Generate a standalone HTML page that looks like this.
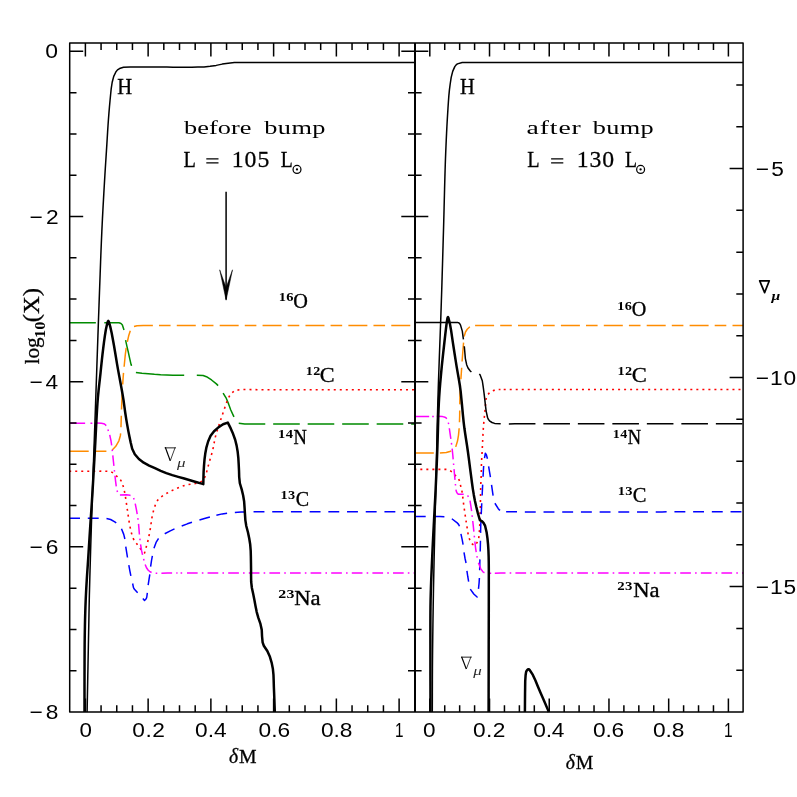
<!DOCTYPE html>
<html><head><meta charset="utf-8"><title>Abundance profiles before and after the bump</title>
<style>
html,body{margin:0;padding:0;background:#fff;}
body{width:797px;height:797px;overflow:hidden;font-family:"Liberation Sans",sans-serif;}
svg{display:block;will-change:transform;opacity:0.999;}
text{fill:#000;}
</style></head>
<body>
<svg width="797" height="797" viewBox="0 0 797 797">
<rect width="797" height="797" fill="#fff"/>
<!-- left panel curves -->
<path d="M69.7 322.7 L75.79 322.7 L81.92 322.7 L87.99 322.7 L94.24 322.7 L95.85 322.7 M104.29 322.67 L110.49 322.66 L116.54 322.69 L118.91 322.74 L120.39 323.21 L121.41 323.87 L122.38 325.08 L124 330.1 M125.6 340.2 L126.88 346.1 L128.31 352.2 L129.66 358.39 L131.03 364.31 L131.5 365.9 M135.9 372.5 L141.93 373.31 L148.2 373.64 L154.42 374.26 L160.68 374.74 L166.9 374.98 L172.95 375.13 L179.33 375.24 L184.2 375.3 M196.8 375.3 L203.13 375.53 L206.47 376.68 L211.55 379.96 L216.39 383.86 L218.1 385.6 M223.1 393.1 L226.34 398.47 L228.67 404.15 L230.78 409.95 L233.38 415.6 L234 416.9 M238.74 423.25 L244.73 423.96 L250.86 423.96 L257.15 423.9 L263.28 423.91 L265.27 423.91 M273.17 423.92 L279.42 423.93 L285.58 423.93 L291.79 423.93 L297.95 423.93 L299.77 423.93 M307.67 423.93 L314.04 423.93 L320.12 423.93 L326.32 423.93 L332.63 423.93 L334.27 423.93 M342.17 423.92 L348.26 423.92 L354.31 423.92 L360.36 423.92 L366.4 423.91 L368.77 423.91 M376.67 423.91 L382.95 423.91 L389.25 423.9 L395.45 423.9 L401.52 423.9 L403.27 423.9 M411.17 423.9 L414.8 423.9" fill="none" stroke="#008b00" stroke-width="1.5" stroke-linecap="butt" stroke-linejoin="round" />
<path d="M69.7 451.3 L75.89 451.3 L82.1 451.3 L88.48 451.3 L88.7 451.3 M94.8 451.31 L100.81 451.33 L106.4 451.31 M112.26 449.9 L115.77 446.26 L118.9 440.79 L120.35 435.72 L120.65 433.42 M120.97 427.33 L121.16 421 L121.32 415.73 M121.52 409.54 L121.75 403.45 L122.03 397.2 L122.33 391.07 L122.36 390.56 M122.69 384.46 L123.08 378.34 L123.51 372.89 M124.12 366.72 L124.71 360.54 L125.33 354.4 L126.14 348.38 L126.23 347.84 M127.33 341.85 L128.68 335.8 L130.3 330.65 M134 326.6 L137.01 325.82 L143.3 325.47 L149.34 325.5 L152.87 325.5 M158.97 325.47 L165.3 325.47 L170.57 325.47 M176.77 325.48 L182.99 325.49 L189.11 325.49 L195.18 325.5 L195.77 325.5 M201.87 325.5 L208.13 325.5 L213.47 325.5 M219.67 325.5 L225.96 325.5 L232.17 325.5 L238.26 325.5 L238.67 325.5 M244.77 325.5 L251.04 325.5 L256.37 325.5 M262.57 325.5 L268.6 325.5 L274.82 325.5 L281.12 325.5 L281.57 325.5 M287.67 325.5 L293.99 325.5 L299.27 325.5 M305.47 325.5 L311.55 325.5 L317.77 325.5 L324.01 325.5 L324.47 325.5 M330.57 325.5 L337 325.5 L342.17 325.5 M348.37 325.5 L354.45 325.5 L360.68 325.5 L366.88 325.5 L367.37 325.5 M373.47 325.5 L379.6 325.5 L385.07 325.5 M391.27 325.5 L397.56 325.5 L403.81 325.5 L409.96 325.5 L410.27 325.5" fill="none" stroke="#ff8c00" stroke-width="1.5" stroke-linecap="butt" stroke-linejoin="round" />
<path d="M69.7 471.3 L71.2 471.3 M75.22 471.3 L77.22 471.3 M81.24 471.3 L83.24 471.3 M87.26 471.3 L89.26 471.3 M93.28 471.28 L95.28 471.25 M99.3 471.19 L101.3 471.17 M105.32 471.19 L107.32 471.27 M111.27 471.85 L112.98 472.88 M116 475.53 L117.5 476.86 M120.35 479.68 L121.42 481.37 M122.85 485.12 L123.43 487.03 M124.36 490.94 L124.74 492.9 M125.46 496.86 L125.77 498.83 M126.35 502.81 L126.65 504.79 M127.21 508.77 L127.49 510.75 M128.06 514.73 L128.36 516.71 M128.96 520.68 L129.27 522.66 M129.99 526.61 L130.42 528.57 M131.31 532.49 L131.81 534.42 M133.1 538.23 L133.99 540.02 M136.32 543.29 L137.55 544.86 M139.92 548.11 L141.14 549.7 M144.04 552.46 L144.6 552.9 L144.94 551.66 M145.99 547.78 L146.53 545.85 M147.65 541.99 L148.12 540.05 M148.95 536.11 L149.34 534.15 M150.07 530.2 L150.41 528.23 M150.98 524.25 L151.24 522.27 M151.82 518.29 L152.2 516.32 M153.09 512.41 L153.59 510.47 M154.73 506.61 L155.4 504.73 M157.07 501.08 L158.24 499.46 M161.27 496.83 L162.9 495.68 M166.32 493.56 L168.06 492.58 M171.63 490.73 L173.43 489.86 M177.1 488.22 L178.95 487.47 M182.73 486.07 L184.62 485.45 M188.53 484.5 L190.5 484.18 M194.48 483.59 L196.45 483.25 M200.31 482.17 L202.02 481.15 M204.46 477.99 L205.34 476.2 M206.58 472.38 L207.04 470.43 M208.06 466.54 L208.61 464.62 M209.7 460.75 L210.25 458.83 M211.39 454.97 L211.95 453.05 M212.94 449.16 L213.34 447.2 M214.07 443.24 L214.43 441.28 M215.26 437.34 L215.76 435.41 M216.88 431.55 L217.47 429.64 M218.69 425.81 L219.33 423.91 M220.6 420.1 L221.23 418.2 M222.51 414.39 L223.15 412.49 M224.45 408.69 L225.08 406.79 M226.42 403 L227.17 401.15 M228.77 397.46 L229.7 395.69 M232.23 392.58 L233.82 391.38 M237.46 390.09 L239.44 389.83 M243.45 389.52 L245.45 389.49 M249.47 389.54 L251.47 389.59 M255.49 389.67 L257.49 389.69 M261.51 389.7 L263.51 389.7 M267.53 389.7 L269.53 389.7 M273.55 389.7 L275.55 389.7 M279.57 389.7 L281.57 389.7 M285.59 389.7 L287.59 389.7 M291.61 389.7 L293.61 389.7 M297.63 389.7 L299.63 389.7 M303.65 389.7 L305.65 389.7 M309.67 389.7 L311.67 389.7 M315.69 389.7 L317.69 389.7 M321.71 389.7 L323.71 389.7 M327.73 389.7 L329.73 389.7 M333.75 389.7 L335.75 389.7 M339.77 389.7 L341.77 389.7 M345.79 389.7 L347.79 389.7 M351.81 389.7 L353.81 389.7 M357.83 389.7 L359.83 389.7 M363.85 389.7 L365.85 389.7 M369.87 389.7 L371.87 389.7 M375.89 389.7 L377.89 389.7 M381.91 389.7 L383.91 389.7 M387.93 389.7 L389.93 389.7 M393.95 389.7 L395.95 389.7 M399.97 389.7 L401.97 389.7 M405.99 389.7 L407.99 389.7 M412.01 389.7 L414.01 389.7" fill="none" stroke="#ff0000" stroke-width="1.6" stroke-linecap="butt" stroke-linejoin="round" />
<path d="M69.7 518.2 L75.96 518.2 L80 518.2 M87.8 518.2 L93.99 518.18 L98.7 518.14 M106.49 518.52 L110.62 519.49 L114.79 521.81 L116.24 522.97 M121.48 528.68 L123.74 534.36 L124.89 538.99 M125.76 546.74 L126.71 552.72 L127.5 557.5 M128.82 565.19 L129.91 571.14 L130.87 575.9 M132.64 583.49 L133.48 587.55 L134.44 589.31 L137.63 592.81 M142.86 598.6 L144.5 600.5 L146.18 598.69 L146.76 597.25 L147.35 592.94 M148.14 585.18 L149.07 579.08 L149.83 574.41 M150.61 566.65 L151.5 560.58 L152.36 555.89 M153.97 548.26 L156.07 542.41 L158.13 539.02 L158.59 538.49 M164.72 533.72 L170.31 530.85 L174.5 528.92 M181.71 525.94 L187.38 523.83 L191.98 522.3 M199.45 520.04 L205.35 518.3 L209.9 516.94 M216.38 515.15 L222.24 513.89 L227.09 513.17 M234.85 512.45 L241.04 512.1 L245.74 511.97 M253.54 511.87 L260 511.8 L264.44 511.75 M272.24 511.7 L278.56 511.67 L283.14 511.66 M290.94 511.65 L296.97 511.64 L301.84 511.64 M309.64 511.64 L315.77 511.65 L320.54 511.65 M328.34 511.66 L334.62 511.67 L339.24 511.68 M347.04 511.7 L353.22 511.71 L357.94 511.72 M365.74 511.74 L371.95 511.75 L376.64 511.76 M384.44 511.77 L390.76 511.78 L395.34 511.79 M403.14 511.79 L409.53 511.8 L414.04 511.8" fill="none" stroke="#0000ff" stroke-width="1.5" stroke-linecap="butt" stroke-linejoin="round" />
<path d="M69.7 423.2 L75.97 423.2 L82.3 423.2 L85.14 423.2 M90.47 423.2 L92.32 423.16 M96.31 423.03 L101.4 423.2 L103.67 423.7 L104.76 424.24 L105.63 425.04 L106.12 425.75 M107.86 429.51 L108.45 431 M109.72 434.95 L111.02 441 L111.67 445.46 M112.2 449.58 L112.38 451.17 M112.8 455.3 L113.43 461.46 L113.91 465.94 M114.34 470.07 L114.52 471.66 M114.97 475.78 L115.7 482.06 L116.26 486.4 M117.05 490.47 L117.5 492.01 M119.92 494.99 L126.29 494.86 L130.1 495.36 L130.56 495.48 M133.61 498.03 L134.11 499.55 M135.21 503.55 L136.42 509.57 L137.2 514.06 M137.82 518.16 L138.04 519.75 M138.54 523.87 L139.04 529.87 L139.41 534.53 M139.86 538.66 L140.04 540.25 M140.56 544.36 L141.58 550.63 L142.54 554.87 M143.62 558.88 L144.06 560.42 M145.16 564.42 L146.5 567.8 L148.24 570.22 L150.06 571.74 L151.59 572.46 M155.67 573.16 L157.27 573.21 M161.42 573.14 L167.55 573.01 L172.11 573.01 M176.26 573.01 L177.58 573.02 M180.58 573.02 L182.18 573.02 M186.98 573.03 L193.27 573.03 L197.68 573.04 M201.83 573.04 L203.43 573.04 M207.58 573.04 L213.88 573.04 L218.28 573.04 M222.43 573.04 L224.03 573.04 M228.18 573.05 L234.36 573.05 L238.88 573.04 M243.03 573.04 L244.63 573.04 M248.78 573.04 L255.13 573.04 L259.48 573.04 M263.63 573.04 L265.23 573.04 M269.38 573.04 L275.82 573.04 L280.08 573.04 M284.23 573.04 L285.83 573.03 M289.98 573.03 L296.36 573.03 L300.68 573.03 M304.83 573.03 L306.43 573.03 M310.58 573.03 L316.82 573.02 L321.28 573.02 M325.43 573.02 L327.03 573.02 M331.18 573.02 L337.37 573.02 L341.88 573.02 M346.03 573.01 L347.63 573.01 M351.78 573.01 L358.16 573.01 L362.48 573.01 M366.63 573.01 L368.23 573.01 M372.38 573.01 L378.41 573.01 L383.08 573 M387.23 573 L388.83 573 M392.98 573 L399.08 573 L403.68 573 M407.83 573 L409.43 573 M413.58 573 L414.8 573" fill="none" stroke="#ff00ff" stroke-width="1.5" stroke-linecap="butt" stroke-linejoin="round" />
<path d="M87.1 712 L87.21 706 L87.33 699.99 L87.44 693.97 L87.56 687.96 L87.67 681.96 L87.79 675.57 L87.92 669.19 L88.03 663.13 L88.15 657.07 L88.27 651.02 L88.38 644.98 L88.5 638.97 L88.63 632.58 L88.76 626.19 L88.87 620.03 L88.98 614.03 L89.1 607.95 L89.23 601.58 L89.36 595.58 L89.52 589.36 L89.68 583.04 L89.84 577.02 L90.02 570.69 L90.2 564.5 L90.39 558.11 L90.57 551.98 L90.76 545.73 L90.95 539.4 L91.15 533.01 L91.35 526.59 L91.55 520.18 L91.76 513.79 L91.96 507.47 L92.16 501.23 L92.37 494.92 L92.58 488.64 L92.79 482.32 L93.01 475.97 L93.23 469.59 L93.44 463.59 L93.65 457.57 L93.87 451.54 L94.08 445.49 L94.3 439.45 L94.51 433.39 L94.73 427.34 L94.95 421.29 L95.16 415.25 L95.38 409.22 L95.59 403.2 L95.8 397.19 L96.01 391.14 L96.22 385.03 L96.43 378.9 L96.65 372.73 L96.86 366.56 L97.07 360.38 L97.28 354.21 L97.5 348.07 L97.71 341.96 L97.92 335.89 L98.13 329.89 L98.35 323.55 L98.57 317.31 L98.79 311.17 L99.01 305.16 L99.23 299.13 L99.45 293.09 L99.68 286.7 L99.91 280.41 L100.14 274.21 L100.36 268.11 L100.58 262.09 L100.82 255.77 L101.06 249.55 L101.31 243.43 L101.57 237.4 L101.85 231.1 L102.15 224.82 L102.46 218.41 L102.79 212.1 L103.12 205.91 L103.46 199.87 L103.81 193.61 L104.16 187.56 L104.52 181.41 L104.89 175.19 L105.27 169.04 L105.67 162.79 L106.07 156.65 L106.47 150.4 L106.85 144.34 L107.22 138.19 L107.59 132.08 L108 125.71 L108.43 119.57 L108.93 113.17 L109.44 107.01 L110.01 100.77 L110.59 94.78 L111.21 88.6 L112.19 82.25 L113.72 76.43 L115.96 71.71 L117.5 69.86 L119.53 68.51 L123.5 67.26 L130 67.1 L136.05 67.04 L142.39 67.05 L148.47 67.07 L154.74 67.09 L160.75 67.1 L166.86 67.11 L173.06 67.13 L179.44 67.14 L185.66 67.15 L191.79 67.14 L197.89 67.09 L204.01 66.92 L210.12 66.34 L216.16 65.39 L222.25 64.11 L228.18 63.15 L234.41 62.62 L240.68 62.52 L246.87 62.49 L252.99 62.46 L259.01 62.46 L265.24 62.46 L271.51 62.47 L277.66 62.48 L284.02 62.49 L290.07 62.49 L296.21 62.5 L302.32 62.5 L308.48 62.5 L314.57 62.5 L320.89 62.5 L327.02 62.5 L333.31 62.5 L339.33 62.5 L345.45 62.5 L351.66 62.5 L357.93 62.5 L364.25 62.5 L370.6 62.5 L376.97 62.5 L383.32 62.5 L389.66 62.5 L395.95 62.5 L402.18 62.5 L408.34 62.5 L414.4 62.5 L414.8 62.5" fill="none" stroke="#000" stroke-width="1.5" stroke-linecap="butt" stroke-linejoin="round" />
<path d="M84.5 712 L84.5 705.64 L84.5 699.3 L84.5 693.27 L84.5 687.25 L84.51 681.25 L84.52 675.16 L84.54 669.05 L84.56 662.98 L84.58 656.88 L84.61 650.78 L84.65 644.74 L84.72 638.35 L84.81 632.21 L84.92 626.18 L85.05 619.91 L85.21 613.89 L85.41 607.54 L85.65 601.21 L85.92 595.21 L86.23 589.18 L86.58 583.06 L86.97 576.69 L87.39 570.4 L87.81 564.29 L88.22 558.16 L88.61 551.99 L88.99 545.95 L89.38 539.79 L89.77 533.63 L90.16 527.62 L90.57 521.43 L90.99 515.28 L91.42 508.95 L91.83 502.66 L92.22 496.43 L92.58 490.43 L92.95 484.14 L93.3 478.06 L93.66 471.86 L94.01 465.61 L94.37 459.38 L94.72 453.22 L95.06 447.17 L95.39 440.98 L95.7 434.67 L96.02 428.33 L96.34 422.05 L96.67 415.93 L97.03 409.66 L97.44 403.42 L97.93 397.24 L98.54 390.89 L99.22 384.66 L99.91 378.55 L100.56 372.57 L101.19 366.42 L101.83 360.28 L102.49 354.27 L103.21 348.29 L104 342.17 L104.87 335.89 L105.89 329.49 L107.2 323.6 L107.8 321.6 L108.3 320.9 L108.8 321.6 L110.45 327.42 L111.72 333.31 L112.88 339.52 L113.97 345.57 L115.02 351.71 L116.02 357.78 L117.02 363.87 L118.07 369.87 L119.23 376.13 L120.37 382.2 L121.48 388.25 L122.59 394.47 L123.56 400.4 L124.37 406.37 L125.2 412.5 L126.19 418.83 L127.22 424.89 L128.3 430.87 L129.47 436.8 L130.74 442.74 L132.18 448.77 L134.8 454.22 L138.88 459.02 L143.72 462.7 L149.12 465.57 L154.93 468.23 L160.7 470.82 L166.3 473.06 L172.29 475.09 L178.21 476.84 L184.21 478.57 L190.03 480.27 L195.88 481.96 L201.74 483.65 L203.3 484.1 L203.43 478.07 L203.61 471.97 L203.99 465.83 L204.51 459.53 L205.27 453.56 L206.44 447.28 L208.12 441.48 L210.59 435.84 L214.07 431.21 L218.71 427.09 L223.1 424.3 L227.8 422.6 L230.6 428.13 L233.06 433.8 L235.18 439.79 L236.62 445.61 L237.68 451.83 L238.34 458.19 L238.7 464.44 L239.02 470.74 L239.2 477.1 L239.86 483.26 L241.69 489.35 L243.15 495.47 L244.14 501.57 L244.58 507.82 L244.96 513.96 L245.36 520.09 L246.28 526.03 L247.94 532.21 L249.25 538.46 L250.21 544.55 L250.71 550.8 L250.87 556.82 L250.97 563.05 L251.06 569.37 L251.07 575.71 L251.17 581.92 L251.9 587.98 L253.22 594.03 L254.4 600 L255.5 605.9 L256.73 612.11 L258.36 617.96 L260.46 623.95 L261.75 629.88 L262.04 636.25 L262.62 642.36 L263.81 645.72 L267.32 651.04 L269.92 656.78 L271.62 662.55 L272.86 668.67 L273.47 674.79 L273.69 680.83 L273.86 687.06 L274.13 693.35 L274.36 699.39 L274.57 705.51 L274.79 711.6 L274.8 712" fill="none" stroke="#000" stroke-width="2.5" stroke-linecap="butt" stroke-linejoin="round" />
<!-- right panel curves -->
<path d="M414.8 452.9 L420.99 452.9 L427.16 452.9 L433.36 452.95 L433.8 452.97 M439.9 453.1 L446.3 452.57 L449.83 451.57 L451.17 450.92 M455.72 446.85 L457.51 441.06 L458.52 435.09 L459.1 428.92 L459.15 428.26 M459.48 422.17 L459.67 416.07 L459.73 410.57 M459.81 404.37 L459.92 398 L460.05 391.75 L460.35 385.52 L460.36 385.38 M460.87 379.31 L461.31 373.09 L461.67 367.73 M462.1 361.55 L462.56 355.22 L463.02 349.2 L463.51 343.2 L463.55 342.6 M464.11 336.53 L465.48 332.01 L467.22 329.26 L469.37 327.19 L469.88 326.85 M475.1 325.6 L481.27 325.53 L487.27 325.55 L493.7 325.59 L494.1 325.59 M500.2 325.6 L506.42 325.6 L511.8 325.6 M518 325.6 L524.1 325.6 L530.14 325.6 L536.19 325.6 L537 325.6 M543.1 325.6 L549.15 325.6 L554.7 325.6 M560.9 325.6 L567.2 325.6 L573.39 325.6 L579.72 325.6 L579.9 325.6 M586 325.6 L592.28 325.6 L597.6 325.6 M603.8 325.6 L610.21 325.6 L616.61 325.6 L622.8 325.6 M628.9 325.6 L635.15 325.6 L640.5 325.6 M646.7 325.6 L652.95 325.6 L659.05 325.6 L665.14 325.6 L665.7 325.6 M671.8 325.6 L678.2 325.6 L683.4 325.6 M689.6 325.6 L695.68 325.6 L702.02 325.6 L708.28 325.6 L708.6 325.6 M714.7 325.6 L721 325.6 L726.3 325.6 M732.5 325.6 L738.65 325.6 L743.1 325.6" fill="none" stroke="#ff8c00" stroke-width="1.5" stroke-linecap="butt" stroke-linejoin="round" />
<path d="M414.8 469.4 L416.3 469.4 M420.32 469.4 L422.32 469.4 M426.34 469.4 L428.34 469.4 M432.36 469.39 L434.36 469.38 M438.38 469.36 L440.38 469.35 M444.4 469.38 L446.4 469.42 M450.16 470.69 L451.81 471.82 M454.63 474.68 L456.01 476.13 M458.67 479.13 L459.52 480.94 M460.43 484.85 L460.85 486.8 M461.84 490.7 L462.21 492.67 M462.73 496.65 L462.95 498.64 M463.42 502.63 L463.69 504.61 M464.25 508.59 L464.54 510.57 M465.12 514.55 L465.41 516.53 M465.99 520.51 L466.29 522.49 M466.91 526.46 L467.24 528.43 M467.83 532.41 L468.17 534.38 M469.19 538.26 L469.89 540.13 M471.84 543.63 L472.46 544.2 L473.48 544.74 M476.39 543.63 L477.43 541.92 M478.72 538.13 L478.98 536.15 M479.35 532.15 L479.51 530.15 M479.71 526.14 L479.79 524.14 M479.95 520.12 L480.03 518.12 M480.16 514.1 L480.21 512.11 M480.32 508.09 L480.36 506.09 M480.43 502.07 L480.46 500.07 M480.53 496.05 L480.56 494.05 M480.62 490.03 L480.66 488.03 M480.8 484.01 L480.89 482.01 M481.09 478 L481.17 476 M481.29 471.98 L481.32 469.98 M481.4 465.96 L481.45 463.96 M481.63 459.95 L481.74 457.95 M481.99 453.94 L482.1 451.94 M482.31 447.93 L482.41 445.93 M482.59 441.91 L482.68 439.92 M482.89 435.9 L483 433.91 M483.23 429.89 L483.36 427.9 M483.68 423.89 L483.86 421.9 M484.25 417.9 L484.45 415.91 M484.85 411.91 L485.05 409.92 M485.44 405.92 L485.55 403.92 M485.87 399.91 L486.39 397.98 M488.13 394.37 L489.41 392.85 M492.83 390.77 L494.73 390.13 M498.69 389.55 L500.48 389.52 M503.7 389.5 L505.7 389.47 M509.72 389.46 L511.72 389.47 M515.74 389.49 L517.74 389.5 M521.76 389.5 L523.76 389.5 M527.78 389.5 L529.78 389.5 M533.8 389.5 L535.8 389.5 M539.82 389.5 L541.82 389.5 M545.84 389.5 L547.84 389.5 M551.86 389.5 L553.86 389.5 M557.88 389.5 L559.88 389.5 M563.9 389.5 L565.9 389.5 M569.92 389.5 L571.92 389.5 M575.94 389.5 L577.94 389.5 M581.96 389.5 L583.96 389.5 M587.98 389.5 L589.98 389.5 M594 389.5 L596 389.5 M600.02 389.5 L602.02 389.5 M606.04 389.5 L608.04 389.5 M612.06 389.5 L614.06 389.5 M618.08 389.5 L620.08 389.5 M624.1 389.5 L626.1 389.5 M630.12 389.5 L632.12 389.5 M636.14 389.5 L638.14 389.5 M642.16 389.5 L644.16 389.5 M648.18 389.5 L650.18 389.5 M654.2 389.5 L656.2 389.5 M660.22 389.5 L662.22 389.5 M666.24 389.5 L668.24 389.5 M672.26 389.5 L674.26 389.5 M678.28 389.5 L680.28 389.5 M684.3 389.5 L686.3 389.5 M690.32 389.5 L692.32 389.5 M696.34 389.5 L698.34 389.5 M702.36 389.5 L704.36 389.5 M708.38 389.5 L710.38 389.5 M714.4 389.5 L716.4 389.5 M720.42 389.5 L722.42 389.5 M726.44 389.5 L728.44 389.5 M732.46 389.5 L734.46 389.5 M738.48 389.5 L740.48 389.5" fill="none" stroke="#ff0000" stroke-width="1.6" stroke-linecap="butt" stroke-linejoin="round" />
<path d="M414.8 516.6 L420.97 516.6 L425.7 516.59 M433.5 516.56 L439.85 516.45 L444.39 516.63 M451.85 518.73 L456.87 522.55 L458.55 524.38 L459.49 526.24 M460.93 533.9 L462.23 539.92 L463.09 544.58 M464 552.33 L465.06 558.5 L466.05 563.02 M466.92 570.77 L467.8 576.74 L468.65 581.53 M470.3 589.13 L473.78 594.01 L477.1 597 L477.17 596.6 M478.48 588.91 L479.11 582.76 L479.4 578.05 M479.66 570.25 L479.79 564.2 L479.92 559.36 M480.19 551.56 L480.36 545.43 L480.45 540.67 M480.58 532.87 L480.73 526.71 L480.9 521.97 M481.24 514.18 L481.54 507.78 L481.76 503.29 M482.13 495.5 L482.44 489.2 L482.66 484.61 M483.06 476.82 L483.38 470.68 L483.67 465.94 M484.51 458.19 L485.3 453.3 L486.36 454.7 L487.44 458.73 M488.62 466.44 L489.66 472.54 L490.41 477.19 M491.54 484.91 L492.43 491.07 L493.1 495.7 M494.89 503.24 L498.27 508.69 L499.39 509.86 L500.09 510.35 M506.13 511.74 L512.56 511.78 L517.03 511.82 M524.83 511.88 L531.06 511.91 L535.73 511.93 M543.53 511.95 L549.58 511.96 L554.43 511.96 M562.23 511.96 L568.61 511.97 L573.13 511.97 M580.93 511.96 L586.95 511.96 L591.83 511.96 M599.63 511.95 L605.73 511.95 L610.53 511.94 M618.33 511.93 L624.44 511.92 L629.23 511.92 M637.03 511.91 L643.16 511.9 L647.93 511.89 M655.73 511.88 L662.08 511.88 L666.63 511.87 M674.43 511.86 L680.43 511.85 L685.33 511.84 M693.13 511.84 L699.38 511.83 L704.03 511.82 M711.83 511.82 L718.09 511.81 L722.73 511.81 M730.53 511.8 L736.59 511.8 L741.43 511.8" fill="none" stroke="#0000ff" stroke-width="1.5" stroke-linecap="butt" stroke-linejoin="round" />
<path d="M414.8 416.5 L421.03 416.49 L427.21 416.49 L429.2 416.5 M432.2 416.47 L433.8 416.43 M436.8 416.33 L442.6 416.6 L445.14 417.33 L446.11 417.94 L446.84 418.73 M448.3 422.6 L448.67 424.15 M449.32 428.25 L450.15 434.21 L450.86 438.84 M451.43 442.95 L451.64 444.54 M452.13 448.66 L452.78 454.78 L453.18 459.31 M453.53 463.44 L453.66 465.04 M454.02 469.17 L454.57 475.25 L455.02 479.82 M455.4 483.96 L455.51 485.55 M455.91 489.68 L456.4 491.6 L457.23 493.19 L458 494.01 L458.69 494.36 L463.69 494.25 M467.49 495.54 L468.53 496.75 M470.01 500.59 L470.96 506.65 L471.61 511.17 M472.11 515.29 L472.29 516.88 M472.75 521 L473.41 527.14 L473.86 531.65 M474.27 535.78 L474.44 537.37 M474.87 541.5 L475.56 547.79 L476.21 552.11 M476.92 556.2 L477.21 557.66 M478.4 562.8 L480.7 568.55 L482.59 571.45 L483.4 572.2 L484.45 572.73 M489.62 573.28 L491.22 573.26 M494.82 573.17 L500.94 573.1 L505.52 573.1 M509.67 573.1 L511.27 573.1 M515.42 573.1 L521.56 573.1 L526.12 573.1 M530.27 573.1 L531.87 573.1 M536.02 573.1 L542.18 573.1 L546.72 573.1 M550.87 573.1 L552.47 573.1 M556.62 573.1 L562.62 573.1 L567.32 573.1 M571.47 573.1 L573.07 573.1 M577.22 573.1 L583.48 573.1 L587.92 573.1 M592.07 573.1 L593.67 573.1 M597.82 573.1 L603.88 573.1 L608.52 573.1 M612.67 573.1 L614.27 573.1 M618.42 573.1 L624.6 573.1 L629.12 573.1 M633.27 573.1 L634.87 573.1 M639.02 573.1 L645.27 573.1 L649.72 573.1 M653.87 573.1 L655.47 573.1 M659.62 573.1 L666.03 573.1 L670.32 573.1 M674.47 573.1 L676.07 573.1 M680.22 573.1 L686.55 573.1 L690.92 573.1 M695.07 573.1 L696.67 573.1 M700.82 573.1 L706.97 573.1 L711.52 573.1 M715.67 573.1 L717.27 573.1 M721.42 573.1 L727.76 573.1 L732.12 573.1 M736.27 573.1 L737.87 573.1 M742.02 573.1 L743.1 573.1" fill="none" stroke="#ff00ff" stroke-width="1.5" stroke-linecap="butt" stroke-linejoin="round" />
<path d="M414.8 322.6 L421.04 322.6 L427.39 322.6 L433.56 322.6 L439.64 322.6 L445.94 322.56 L452.11 322.53 L458 322.61 L458.68 322.82 L459.51 323.45 L460.53 325.12 L462.3 331.11 L463.1 337.1 L463.44 339.48 M464.3 346.19 L464.82 352.29 L465.37 358.6 L466.65 364.72 L468.01 367.98 L470.28 371.03 L471.4 372 M479.3 374 L480.05 374.79 L482.29 380.76 L483.22 386.98 L484.02 393.01 L484.75 399.18 L485.43 405.35 L486.19 411.32 L487.56 417.52 L488.5 419.61 L489.85 421.14 L492 422.5 L494.64 423.4 L500.7 423.8 M508.85 423.89 L514.95 423.82 L521.12 423.8 L527.3 423.8 L533.33 423.8 L535.45 423.8 M543.35 423.8 L549.57 423.8 L555.73 423.8 L561.85 423.8 L567.85 423.8 L569.95 423.8 M577.85 423.8 L584.22 423.8 L590.52 423.8 L596.53 423.8 L602.66 423.8 L604.45 423.8 M612.35 423.8 L618.39 423.8 L624.82 423.8 L630.85 423.8 L636.92 423.8 L638.95 423.8 M646.85 423.8 L652.94 423.8 L659.09 423.8 L665.24 423.8 L671.39 423.8 L673.45 423.8 M681.35 423.8 L687.35 423.8 L693.38 423.8 L699.83 423.8 L706.2 423.8 L707.95 423.8 M715.85 423.8 L722.18 423.8 L728.21 423.8 L734.52 423.8 L740.68 423.8 L742.45 423.8" fill="none" stroke="#000" stroke-width="1.5" stroke-linecap="butt" stroke-linejoin="round" />
<path d="M432.3 712 L432.32 705.62 L432.34 699.28 L432.35 692.96 L432.37 686.63 L432.38 680.27 L432.41 674.27 L432.44 668.2 L432.48 662.07 L432.54 655.7 L432.6 649.7 L432.67 643.58 L432.75 637.38 L432.83 631.17 L432.91 624.97 L433 618.86 L433.1 612.47 L433.2 606.28 L433.3 600 L433.41 593.69 L433.52 587.46 L433.65 581.1 L433.77 575.08 L433.91 568.75 L434.04 562.75 L434.17 556.62 L434.31 550.59 L434.46 544.24 L434.6 538.02 L434.75 532.01 L434.89 525.87 L435.04 519.63 L435.2 513.32 L435.35 506.98 L435.5 500.64 L435.66 494.35 L435.81 488.12 L435.95 482.01 L436.1 475.61 L436.25 469.27 L436.39 462.96 L436.52 456.67 L436.66 450.39 L436.8 444.1 L436.94 437.79 L437.08 431.45 L437.23 425.06 L437.38 419.01 L437.54 412.89 L437.71 406.7 L437.89 400.42 L438.07 394.26 L438.27 388.01 L438.48 381.63 L438.69 375.57 L438.91 369.44 L439.13 363.26 L439.35 357.05 L439.58 350.83 L439.81 344.62 L440.04 338.43 L440.26 332.29 L440.49 326.22 L440.72 319.83 L440.94 313.56 L441.15 307.43 L441.36 301.1 L441.57 294.83 L441.77 288.54 L441.96 282.39 L442.14 276.36 L442.33 270.03 L442.52 263.77 L442.7 257.56 L442.88 251.35 L443.06 245.12 L443.24 238.82 L443.43 232.43 L443.6 226.42 L443.77 220.35 L443.93 214.17 L444.09 207.92 L444.25 201.64 L444.41 195.36 L444.57 189.12 L444.73 182.95 L444.9 176.89 L445.09 170.58 L445.28 164.49 L445.49 158.3 L445.74 151.87 L446 145.67 L446.28 139.27 L446.57 133.11 L446.89 126.79 L447.22 120.72 L447.59 114.56 L447.98 108.31 L448.39 101.93 L448.84 95.93 L449.43 89.88 L450.22 83.74 L451.19 77.44 L452.7 71.4 L454.79 66.6 L456.14 64.84 L457.42 63.87 L462.19 62.49 L468.39 62.49 L474.4 62.48 L480.65 62.47 L486.81 62.48 L492.86 62.48 L498.99 62.49 L505.09 62.49 L511.56 62.5 L517.84 62.5 L523.97 62.5 L530.2 62.5 L536.26 62.5 L542.33 62.5 L548.35 62.5 L554.63 62.5 L560.77 62.5 L567.1 62.5 L573.22 62.5 L579.5 62.5 L585.5 62.5 L591.62 62.5 L597.84 62.5 L604.15 62.5 L610.55 62.5 L616.58 62.5 L622.67 62.5 L628.82 62.5 L635 62.5 L641.21 62.5 L647.46 62.5 L653.72 62.5 L659.99 62.5 L666.26 62.5 L672.53 62.5 L678.79 62.5 L685.03 62.5 L691.25 62.5 L697.43 62.5 L703.56 62.5 L709.65 62.5 L715.68 62.5 L722.07 62.5 L728.37 62.5 L734.58 62.5 L740.69 62.5 L743.1 62.5" fill="none" stroke="#000" stroke-width="1.5" stroke-linecap="butt" stroke-linejoin="round" />
<path d="M430.5 712 L430.49 705.97 L430.48 699.9 L430.46 693.8 L430.45 687.69 L430.43 681.6 L430.42 675.53 L430.41 669.51 L430.4 663.15 L430.4 656.9 L430.4 650.76 L430.4 644.57 L430.39 638.41 L430.38 632.35 L430.38 625.96 L430.39 619.64 L430.42 613.35 L430.48 607.08 L430.58 600.79 L430.73 594.7 L430.91 588.57 L431.12 582.44 L431.36 576.34 L431.62 570.29 L431.9 563.92 L432.18 557.67 L432.46 551.43 L432.75 545.1 L433.06 538.84 L433.37 532.69 L433.71 526.31 L434.03 520.16 L434.35 514.12 L434.67 507.94 L435 501.78 L435.33 495.54 L435.63 489.29 L435.92 483.05 L436.2 476.87 L436.46 470.86 L436.72 464.7 L436.97 458.44 L437.22 452.11 L437.45 445.76 L437.64 439.74 L437.82 433.54 L437.99 427.26 L438.17 420.99 L438.36 414.83 L438.59 408.48 L438.87 402.48 L439.21 396.45 L439.65 390.18 L440.16 383.86 L440.71 377.7 L441.29 371.49 L441.88 365.36 L442.54 359.07 L443.22 352.84 L443.93 346.49 L444.6 340.49 L445.3 334.31 L446.04 328.02 L446.82 321.92 L447.48 318.05 L447.79 317.37 L448 317.1 L448.4 317.7 L449.88 323.65 L451.02 329.91 L451.93 336.14 L452.81 342.12 L453.75 348.23 L454.68 354.28 L455.64 360.41 L456.6 366.41 L457.67 372.62 L458.76 378.8 L459.79 384.99 L460.63 391.2 L461.24 397.34 L461.84 403.48 L462.42 409.72 L463.01 415.98 L463.67 422.27 L464.41 428.29 L465.28 434.27 L466.2 440.24 L467.12 446.22 L467.98 452.21 L468.8 458.4 L469.61 464.6 L470.38 470.55 L471.18 476.63 L471.97 482.78 L472.82 488.86 L473.82 494.92 L474.96 500.9 L476.34 507.06 L477.86 513.1 L479.56 518.99 L479.9 520.1 L482.13 521.41 L483.52 522.89 L485.13 525.95 L486.6 532.18 L487.47 538.4 L488.05 544.41 L488.44 550.61 L488.65 556.65 L488.76 562.96 L488.81 569.21 L488.81 575.28 L488.8 581.32 L488.8 587.67 L488.8 593.78 L488.8 599.97 L488.79 606.13 L488.78 612.13 L488.77 618.3 L488.75 624.57 L488.74 630.89 L488.73 637.2 L488.71 643.46 L488.7 649.6 L488.69 655.96 L488.68 662.33 L488.67 668.73 L488.66 674.73 L488.65 680.74 L488.64 686.75 L488.63 692.77 L488.62 698.78 L488.61 704.79 L488.6 710.8 L488.6 712" fill="none" stroke="#000" stroke-width="2.5" stroke-linecap="butt" stroke-linejoin="round" />
<path d="M524.9 712 L524.95 705.86 L524.99 699.65 L525.05 693.31 L525.14 687.29 L525.22 681.25 L525.6 675.23 L526.11 671.93 L526.5 671 L527.43 669.78 L528.15 669.27 L528.5 669.2 L528.83 669.28 L529.5 669.79 L532.86 674.93 L535.44 680.5 L537.88 686.41 L540.31 692.18 L542.84 697.94 L545.33 703.66 L547.72 709.39 L548.8 712" fill="none" stroke="#000" stroke-width="2.5" stroke-linecap="butt" stroke-linejoin="round" />
<!-- frame -->
<path d="M415 43.1 V712" fill="none" stroke="#000" stroke-width="2" stroke-linecap="butt" stroke-linejoin="round" />
<path d="M69.7 43.1 H743.1 V712 H69.7 Z M85.39 43.1 v13.5 M85.39 712 v-13.5 M101.07 43.1 v6.8 M101.07 712 v-6.8 M116.76 43.1 v6.8 M116.76 712 v-6.8 M132.45 43.1 v6.8 M132.45 712 v-6.8 M148.13 43.1 v13.5 M148.13 712 v-13.5 M163.82 43.1 v6.8 M163.82 712 v-6.8 M179.5 43.1 v6.8 M179.5 712 v-6.8 M195.19 43.1 v6.8 M195.19 712 v-6.8 M210.88 43.1 v13.5 M210.88 712 v-13.5 M226.56 43.1 v6.8 M226.56 712 v-6.8 M242.25 43.1 v6.8 M242.25 712 v-6.8 M257.94 43.1 v6.8 M257.94 712 v-6.8 M273.62 43.1 v13.5 M273.62 712 v-13.5 M289.31 43.1 v6.8 M289.31 712 v-6.8 M305 43.1 v6.8 M305 712 v-6.8 M320.68 43.1 v6.8 M320.68 712 v-6.8 M336.37 43.1 v13.5 M336.37 712 v-13.5 M352.05 43.1 v6.8 M352.05 712 v-6.8 M367.74 43.1 v6.8 M367.74 712 v-6.8 M383.43 43.1 v6.8 M383.43 712 v-6.8 M399.11 43.1 v13.5 M399.11 712 v-13.5 M429.8 43.1 v13.5 M429.8 712 v-13.5 M444.73 43.1 v6.8 M444.73 712 v-6.8 M459.66 43.1 v6.8 M459.66 712 v-6.8 M474.59 43.1 v6.8 M474.59 712 v-6.8 M489.52 43.1 v13.5 M489.52 712 v-13.5 M504.45 43.1 v6.8 M504.45 712 v-6.8 M519.38 43.1 v6.8 M519.38 712 v-6.8 M534.31 43.1 v6.8 M534.31 712 v-6.8 M549.24 43.1 v13.5 M549.24 712 v-13.5 M564.17 43.1 v6.8 M564.17 712 v-6.8 M579.1 43.1 v6.8 M579.1 712 v-6.8 M594.03 43.1 v6.8 M594.03 712 v-6.8 M608.96 43.1 v13.5 M608.96 712 v-13.5 M623.89 43.1 v6.8 M623.89 712 v-6.8 M638.82 43.1 v6.8 M638.82 712 v-6.8 M653.75 43.1 v6.8 M653.75 712 v-6.8 M668.68 43.1 v13.5 M668.68 712 v-13.5 M683.61 43.1 v6.8 M683.61 712 v-6.8 M698.54 43.1 v6.8 M698.54 712 v-6.8 M713.47 43.1 v6.8 M713.47 712 v-6.8 M728.4 43.1 v13.5 M728.4 712 v-13.5 M69.7 51.36 h13.5 M401.3 51.36 h27 M69.7 92.65 h6.8 M408 92.65 h13.6 M69.7 133.94 h6.8 M408 133.94 h13.6 M69.7 175.23 h6.8 M408 175.23 h13.6 M69.7 216.52 h13.5 M401.3 216.52 h27 M69.7 257.81 h6.8 M408 257.81 h13.6 M69.7 299.1 h6.8 M408 299.1 h13.6 M69.7 340.39 h6.8 M408 340.39 h13.6 M69.7 381.68 h13.5 M401.3 381.68 h27 M69.7 422.97 h6.8 M408 422.97 h13.6 M69.7 464.26 h6.8 M408 464.26 h13.6 M69.7 505.55 h6.8 M408 505.55 h13.6 M69.7 546.84 h13.5 M401.3 546.84 h27 M69.7 588.13 h6.8 M408 588.13 h13.6 M69.7 629.42 h6.8 M408 629.42 h13.6 M69.7 670.71 h6.8 M408 670.71 h13.6 M69.7 712 h13.5 M401.3 712 h27 M743.1 84.91 h-6.8 M743.1 126.71 h-6.8 M743.1 168.52 h-13.5 M743.1 210.32 h-6.8 M743.1 252.13 h-6.8 M743.1 293.94 h-6.8 M743.1 335.74 h-6.8 M743.1 377.55 h-13.5 M743.1 419.36 h-6.8 M743.1 461.16 h-6.8 M743.1 502.97 h-6.8 M743.1 544.77 h-6.8 M743.1 586.58 h-13.5 M743.1 628.39 h-6.8 M743.1 670.19 h-6.8" fill="none" stroke="#000" stroke-width="1.5" stroke-linecap="butt" stroke-linejoin="round" />
<path d="M226.1 191.7 V299.5" fill="none" stroke="#000" stroke-width="1.5" stroke-linecap="butt" stroke-linejoin="round" />
<path d="M226.1 300.2 L219.7 269.8 L226.1 287.5 L232.5 269.8 Z" fill="#000" stroke="#000" stroke-width="0.5" stroke-linejoin="miter"/>
<!-- text -->
<text transform="translate(79.43 737.4) scale(1.100 1)" style="font-family:&quot;Liberation Sans&quot;,sans-serif;font-size:20.3px">0</text>
<text transform="translate(132.31 737.4) scale(1.120 1)" style="font-family:&quot;Liberation Sans&quot;,sans-serif;font-size:20.3px;letter-spacing:0.41px">0.2</text>
<text transform="translate(195.11 737.4) scale(1.120 1)" style="font-family:&quot;Liberation Sans&quot;,sans-serif;font-size:20.3px;letter-spacing:-0.07px">0.4</text>
<text transform="translate(258.51 737.4) scale(1.120 1)" style="font-family:&quot;Liberation Sans&quot;,sans-serif;font-size:20.3px;letter-spacing:0.03px">0.6</text>
<text transform="translate(321.01 737.4) scale(1.120 1)" style="font-family:&quot;Liberation Sans&quot;,sans-serif;font-size:20.3px;letter-spacing:-0.06px">0.8</text>
<text transform="translate(395.04 737.4) scale(0.753 1)" style="font-family:&quot;Liberation Sans&quot;,sans-serif;font-size:20.3px">1</text>
<text transform="translate(422.92 737.4) scale(1.111 1)" style="font-family:&quot;Liberation Sans&quot;,sans-serif;font-size:20.3px">0</text>
<text transform="translate(473.11 737.4) scale(1.120 1)" style="font-family:&quot;Liberation Sans&quot;,sans-serif;font-size:20.3px;letter-spacing:0.28px">0.2</text>
<text transform="translate(533.31 737.4) scale(1.120 1)" style="font-family:&quot;Liberation Sans&quot;,sans-serif;font-size:20.3px;letter-spacing:-0.25px">0.4</text>
<text transform="translate(592.91 737.4) scale(1.120 1)" style="font-family:&quot;Liberation Sans&quot;,sans-serif;font-size:20.3px;letter-spacing:-0.11px">0.6</text>
<text transform="translate(652.91 737.4) scale(1.120 1)" style="font-family:&quot;Liberation Sans&quot;,sans-serif;font-size:20.3px;letter-spacing:-0.06px">0.8</text>
<text transform="translate(723.92 737.4) scale(0.764 1)" style="font-family:&quot;Liberation Sans&quot;,sans-serif;font-size:20.3px">1</text>
<text transform="translate(45.3 58.46) scale(1.131 1)" style="font-family:&quot;Liberation Sans&quot;,sans-serif;font-size:20.3px">0</text>
<text transform="translate(29.39 223.62) scale(1.120 1)" style="font-family:&quot;Liberation Sans&quot;,sans-serif;font-size:20.3px;letter-spacing:2.98px">−2</text>
<text transform="translate(29.39 388.78) scale(1.120 1)" style="font-family:&quot;Liberation Sans&quot;,sans-serif;font-size:20.3px;letter-spacing:2.55px">−4</text>
<text transform="translate(29.39 553.94) scale(1.120 1)" style="font-family:&quot;Liberation Sans&quot;,sans-serif;font-size:20.3px;letter-spacing:2.83px">−6</text>
<text transform="translate(29.39 719.1) scale(1.120 1)" style="font-family:&quot;Liberation Sans&quot;,sans-serif;font-size:20.3px;letter-spacing:2.83px">−8</text>
<text transform="translate(755.79 175.62) scale(1.120 1)" style="font-family:&quot;Liberation Sans&quot;,sans-serif;font-size:20.3px;letter-spacing:1.99px">−5</text>
<text transform="translate(755.79 384.65) scale(1.120 1)" style="font-family:&quot;Liberation Sans&quot;,sans-serif;font-size:20.3px;letter-spacing:0.81px">−10</text>
<text transform="translate(755.79 593.68) scale(1.120 1)" style="font-family:&quot;Liberation Sans&quot;,sans-serif;font-size:20.3px;letter-spacing:0.84px">−15</text>
<text transform="translate(39.3 364.3) rotate(-90) translate(-0.02 0) scale(0.984 1)" style="font-family:&quot;Liberation Serif&quot;,serif;font-size:21.5px;stroke:#000;stroke-width:0.3px">log</text>
<text transform="translate(39.3 364.3) rotate(-90) translate(26.29 5.4) scale(1.053 1)" style="font-family:&quot;Liberation Serif&quot;,serif;font-size:15.5px;font-weight:bold">10</text>
<text transform="translate(39.3 364.3) rotate(-90) translate(41.93 0) scale(1.102 1)" style="font-family:&quot;Liberation Serif&quot;,serif;font-size:22.5px;stroke:#000;stroke-width:0.3px">(X)</text>
<text transform="translate(229.03 762.8) scale(0.956 1)" style="font-family:&quot;Liberation Serif&quot;,serif;font-size:20.5px;font-style:italic;stroke:#000;stroke-width:0.3px">δ</text>
<text transform="translate(238.95 762.8) scale(1.011 1)" style="font-family:&quot;Liberation Serif&quot;,serif;font-size:19.5px;stroke:#000;stroke-width:0.3px">M</text>
<text transform="translate(565.83 768.8) scale(0.956 1)" style="font-family:&quot;Liberation Serif&quot;,serif;font-size:20.5px;font-style:italic;stroke:#000;stroke-width:0.3px">δ</text>
<text transform="translate(575.75 768.8) scale(1.011 1)" style="font-family:&quot;Liberation Serif&quot;,serif;font-size:19.5px;stroke:#000;stroke-width:0.3px">M</text>
<text transform="translate(117.32 94) scale(0.912 1)" style="font-family:&quot;Liberation Serif&quot;,serif;font-size:22.6px;stroke:#000;stroke-width:0.35px">H</text>
<text transform="translate(459.93 94) scale(0.905 1)" style="font-family:&quot;Liberation Serif&quot;,serif;font-size:22.6px;stroke:#000;stroke-width:0.35px">H</text>
<text transform="translate(184 134.3) scale(1.330 1)" style="font-family:&quot;Liberation Serif&quot;,serif;font-size:19.8px;letter-spacing:0.04px">before</text>
<text transform="translate(264.2 134.3) scale(1.330 1)" style="font-family:&quot;Liberation Serif&quot;,serif;font-size:19.8px;letter-spacing:0.34px">bump</text>
<text transform="translate(526.43 134.3) scale(1.400 1)" style="font-family:&quot;Liberation Serif&quot;,serif;font-size:19.8px;letter-spacing:0.65px">after</text>
<text transform="translate(592.8 134.3) scale(1.330 1)" style="font-family:&quot;Liberation Serif&quot;,serif;font-size:19.8px;letter-spacing:0.21px">bump</text>
<text transform="translate(183.43 167.3) scale(0.905 1)" style="font-family:&quot;Liberation Serif&quot;,serif;font-size:22.4px;stroke:#000;stroke-width:0.3px">L</text>
<path d="M206.3 158.9 h12.2 M206.3 162.9 h12.2" stroke="#000" stroke-width="1.3" fill="none"/>
<text transform="translate(231.63 167.3) scale(1.060 1)" style="font-family:&quot;Liberation Serif&quot;,serif;font-size:22.4px;letter-spacing:0.98px;stroke:#000;stroke-width:0.25px">105</text>
<text transform="translate(280.85 167.3) scale(0.879 1)" style="font-family:&quot;Liberation Serif&quot;,serif;font-size:22.4px;stroke:#000;stroke-width:0.3px">L</text>
<circle cx="297" cy="169.4" r="3.95" fill="none" stroke="#000" stroke-width="1.25"/>
<circle cx="297" cy="169.4" r="1.15" fill="#000"/>
<text transform="translate(527.33 167.3) scale(0.905 1)" style="font-family:&quot;Liberation Serif&quot;,serif;font-size:22.4px;stroke:#000;stroke-width:0.3px">L</text>
<path d="M551.1 158.9 h12.2 M551.1 162.9 h12.2" stroke="#000" stroke-width="1.3" fill="none"/>
<text transform="translate(576.63 167.3) scale(1.060 1)" style="font-family:&quot;Liberation Serif&quot;,serif;font-size:22.4px;letter-spacing:0.87px;stroke:#000;stroke-width:0.25px">130</text>
<text transform="translate(624.95 167.3) scale(0.879 1)" style="font-family:&quot;Liberation Serif&quot;,serif;font-size:22.4px;stroke:#000;stroke-width:0.3px">L</text>
<circle cx="640.6" cy="169.4" r="3.95" fill="none" stroke="#000" stroke-width="1.25"/>
<circle cx="640.6" cy="169.4" r="1.15" fill="#000"/>
<text transform="translate(278.74 301.4) scale(1.181 1)" style="font-family:&quot;Liberation Serif&quot;,serif;font-size:12.3px;font-weight:bold;letter-spacing:0.3px">16</text>
<text transform="translate(293.17 308) scale(0.943 1)" style="font-family:&quot;Liberation Serif&quot;,serif;font-size:21.5px;stroke:#000;stroke-width:0.35px">O</text>
<text transform="translate(305.87 375.4) scale(1.153 1)" style="font-family:&quot;Liberation Serif&quot;,serif;font-size:12.3px;font-weight:bold;letter-spacing:0.3px">12</text>
<text transform="translate(319.69 382) scale(1.034 1)" style="font-family:&quot;Liberation Serif&quot;,serif;font-size:21.5px;stroke:#000;stroke-width:0.35px">C</text>
<text transform="translate(278.03 437.5) scale(1.185 1)" style="font-family:&quot;Liberation Serif&quot;,serif;font-size:12.3px;font-weight:bold;letter-spacing:0.3px">14</text>
<text transform="translate(293.38 444.1) scale(0.858 1)" style="font-family:&quot;Liberation Serif&quot;,serif;font-size:21.5px;stroke:#000;stroke-width:0.35px">N</text>
<text transform="translate(280.55 499.4) scale(1.170 1)" style="font-family:&quot;Liberation Serif&quot;,serif;font-size:12.3px;font-weight:bold;letter-spacing:0.3px">13</text>
<text transform="translate(295.78 506) scale(0.929 1)" style="font-family:&quot;Liberation Serif&quot;,serif;font-size:21.5px;stroke:#000;stroke-width:0.35px">C</text>
<text transform="translate(278.13 598.4) scale(1.294 1)" style="font-family:&quot;Liberation Serif&quot;,serif;font-size:12.3px;font-weight:bold;letter-spacing:0.3px">23</text>
<text transform="translate(294.17 605) scale(1.054 1)" style="font-family:&quot;Liberation Serif&quot;,serif;font-size:21.5px;stroke:#000;stroke-width:0.35px">Na</text>
<text transform="translate(617.36 309.8) scale(1.163 1)" style="font-family:&quot;Liberation Serif&quot;,serif;font-size:12.3px;font-weight:bold;letter-spacing:0.3px">16</text>
<text transform="translate(631.87 316.4) scale(0.936 1)" style="font-family:&quot;Liberation Serif&quot;,serif;font-size:21.5px;stroke:#000;stroke-width:0.35px">O</text>
<text transform="translate(617.56 375.4) scale(1.162 1)" style="font-family:&quot;Liberation Serif&quot;,serif;font-size:12.3px;font-weight:bold;letter-spacing:0.3px">12</text>
<text transform="translate(631.77 382) scale(1.051 1)" style="font-family:&quot;Liberation Serif&quot;,serif;font-size:21.5px;stroke:#000;stroke-width:0.35px">C</text>
<text transform="translate(612.87 437.5) scale(1.150 1)" style="font-family:&quot;Liberation Serif&quot;,serif;font-size:12.3px;font-weight:bold;letter-spacing:0.3px">14</text>
<text transform="translate(627.68 444.1) scale(0.858 1)" style="font-family:&quot;Liberation Serif&quot;,serif;font-size:21.5px;stroke:#000;stroke-width:0.35px">N</text>
<text transform="translate(617.64 494.9) scale(1.179 1)" style="font-family:&quot;Liberation Serif&quot;,serif;font-size:12.3px;font-weight:bold;letter-spacing:0.3px">13</text>
<text transform="translate(632.66 501.5) scale(0.953 1)" style="font-family:&quot;Liberation Serif&quot;,serif;font-size:21.5px;stroke:#000;stroke-width:0.35px">C</text>
<text transform="translate(617.28 590.1) scale(1.209 1)" style="font-family:&quot;Liberation Serif&quot;,serif;font-size:12.3px;font-weight:bold;letter-spacing:0.3px">23</text>
<text transform="translate(633.27 596.7) scale(1.050 1)" style="font-family:&quot;Liberation Serif&quot;,serif;font-size:21.5px;stroke:#000;stroke-width:0.35px">Na</text>
<path d="M175.2 447.3 L170.25 460.8" fill="none" stroke="#000" stroke-width="0.75"/>
<path d="M165.3 447.3 L170.25 460.8" fill="none" stroke="#000" stroke-width="1.15"/>
<path d="M164.7 447.8 H175.8" fill="none" stroke="#000" stroke-opacity="0.62" stroke-width="1.4"/>
<text transform="translate(177.12 466.9) scale(1.261 1)" style="font-family:&quot;Liberation Serif&quot;,serif;font-size:13.5px;font-style:italic;fill:#2a2a2a">μ</text>
<path d="M471 656.7 L466.3 669" fill="none" stroke="#000" stroke-width="0.75"/>
<path d="M461.6 656.7 L466.3 669" fill="none" stroke="#000" stroke-width="1.15"/>
<path d="M461 657.2 H471.6" fill="none" stroke="#000" stroke-opacity="0.62" stroke-width="1.4"/>
<text transform="translate(473.22 675.4) scale(1.261 1)" style="font-family:&quot;Liberation Serif&quot;,serif;font-size:13.5px;font-style:italic;fill:#2a2a2a">μ</text>
<path d="M759.7 280.8 H769.3 L764.6 292.6 Z" fill="none" stroke="#000" stroke-width="1.7" stroke-linejoin="round"/>
<text transform="translate(771.57 300.2) scale(1.189 1)" style="font-family:&quot;Liberation Serif&quot;,serif;font-size:13.2px;font-weight:bold;font-style:italic">μ</text>
</svg>
</body></html>
